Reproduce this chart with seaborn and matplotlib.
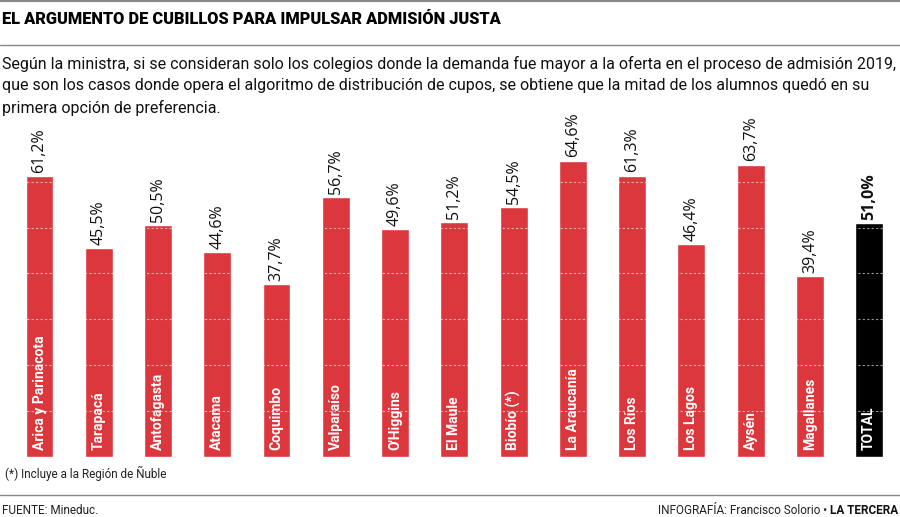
import matplotlib
matplotlib.use("Agg")
import matplotlib.pyplot as plt
import seaborn as sns
import pandas as pd

regions = ["Arica y Parinacota", "Tarapacá", "Antofagasta", "Atacama", "Coquimbo",
           "Valparaíso", "O'Higgins", "El Maule", "Biobío (*)", "La Araucanía",
           "Los Ríos", "Los Lagos", "Aysén", "Magallanes", "TOTAL"]
values = [61.2, 45.5, 50.5, 44.6, 37.7, 56.7, 49.6, 51.2, 54.5, 64.6, 61.3, 46.4, 63.7, 39.4, 51.0]
gridlines = [10, 20, 30, 40, 50, 60]

RED = "#DB373D"
colors = [RED] * (len(regions) - 1) + ["#000000"]

sns.set_theme(style="white")
plt.rcParams['font.family'] = ['Roboto', 'DejaVu Sans']

fig = plt.figure(figsize=(9, 5.17), dpi=100)
ax = fig.add_axes([0, 0.116, 1, 0.657])

df = pd.DataFrame({"region": regions, "value": values})
sns.barplot(data=df, x="region", y="value", hue="region", palette=colors,
            legend=False, width=0.47, ax=ax, saturation=1, zorder=2)

ax.set_xlim(-0.667, 14.52)
ax.set_ylim(0, 74)
ax.axis("off")

for g in gridlines:
    ax.axhline(g, color="white", linestyle=(0, (2, 2)), linewidth=0.8, alpha=0.6, zorder=3)
ax.axhline(0, color="#cccccc", linestyle=(0, (3, 3)), linewidth=0.6, zorder=1)

for i, (r, v) in enumerate(zip(regions, values)):
    last = i == len(regions) - 1
    ax.text(i, 1.5, r, rotation=90, ha="center", va="bottom", color="white",
            fontsize=10, fontweight="bold", zorder=4)
    lab = f"{v:.1f}%".replace(".", ",")
    ax.text(i, v + 0.7, lab, rotation=90, ha="center", va="bottom", color="#111111",
            fontsize=11.5, fontweight="bold" if last else "normal", zorder=4,
            family=["Open Sans", "DejaVu Sans"])

# Header
fig.add_artist(plt.Line2D([0, 1], [0.998, 0.998], color="#888888", linewidth=1.5))
fig.text(0.002, 1 - 24 / 517, "EL ARGUMENTO DE CUBILLOS PARA IMPULSAR ADMISIÓN JUSTA",
         fontsize=11.8, fontweight="heavy", color="black", ha="left", va="baseline")
fig.add_artist(plt.Line2D([0, 1], [1 - 45 / 517, 1 - 45 / 517], color="#888888", linewidth=1))
subtitle = ("Según la ministra, si se consideran solo los colegios donde la demanda fue mayor a la oferta en el proceso de admisión 2019,\n"
            "que son los casos donde opera el algoritmo de distribución de cupos, se obtiene que la mitad de los alumnos quedó en su\n"
            "primera opción de preferencia.")
fig.text(0.002, 1 - 56 / 517, subtitle, fontsize=11.5, color="#111111", ha="left", va="top",
         linespacing=1.5)

# Footer
fig.text(0.006, 1 - 473 / 517, "(*) Incluye a la Región de Ñuble", fontsize=8.5, color="#222222",
         ha="left", va="center")
fig.add_artist(plt.Line2D([0, 1], [1 - 495 / 517, 1 - 495 / 517], color="#888888", linewidth=1))
fig.text(0.002, 1 - 510 / 517, "FUENTE: Mineduc.", fontsize=8.5, color="#222222", ha="left", va="center")
t2 = fig.text(0.998, 1 - 510 / 517, "LA TERCERA", fontsize=8.5, color="#111111", fontweight="bold",
              ha="right", va="center")
fig.canvas.draw()
bb = t2.get_window_extent()
x_left = bb.x0 / fig.bbox.width
fig.text(x_left - 0.003, 1 - 510 / 517, "INFOGRAFÍA: Francisco Solorio •", fontsize=8.5,
         color="#222222", ha="right", va="center")

fig.savefig("out.png", dpi=100)
